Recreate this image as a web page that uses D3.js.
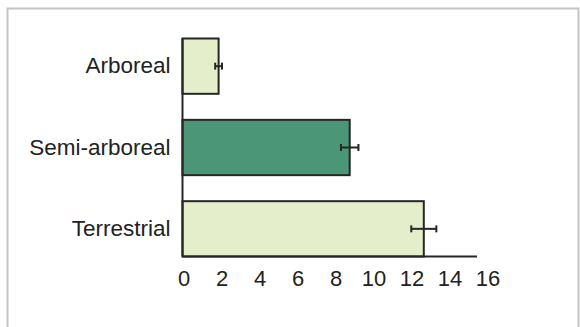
<!DOCTYPE html>
<html>
<head>
<meta charset="utf-8">
<script src="https://cdn.jsdelivr.net/npm/d3@7"></script>
<style>
  html, body { margin: 0; padding: 0; background: #fff; }
  svg { display: block; }
  text { font-family: "Liberation Sans", Arial, Helvetica, sans-serif; fill: #222; }
</style>
</head>
<body>
<svg id="chart" width="580" height="327"></svg>
<script>
// Habitat categories, mean values and error (± half-width)
const categories = ["Arboreal", "Semi-arboreal", "Terrestrial"];
const values = [1.9, 8.8, 12.7];
const errors = [0.18, 0.46, 0.66];
const fills = ["#e4eecb", "#4a9676", "#e4eecb"];
const tickValues = [0, 2, 4, 6, 8, 10, 12, 14, 16];

const svg = d3.select("#chart");

// outer panel frame
svg.append("rect")
  .attr("x", 7.5).attr("y", 8.5)
  .attr("width", 571).attr("height", 340)
  .attr("fill", "#fff")
  .attr("stroke", "#c4c4c4")
  .attr("stroke-width", 2);

const x = d3.scaleLinear().domain([0, 16]).range([182.5, 486.5]);
const y = d3.scaleBand().domain(categories).range([38.5, 256.5]).paddingInner(0.32).paddingOuter(0);

const data = categories.map((c, i) => ({ c, v: values[i], e: errors[i], f: fills[i] }));

// bars
svg.append("g").selectAll("rect")
  .data(data).join("rect")
  .attr("x", x(0))
  .attr("y", d => y(d.c))
  .attr("width", d => x(d.v) - x(0))
  .attr("height", y.bandwidth())
  .attr("fill", d => d.f)
  .attr("stroke", "#262626")
  .attr("stroke-width", 2);

// error bars
const eg = svg.append("g").attr("stroke", "#262626").attr("stroke-width", 2);
data.forEach(d => {
  const cy = y(d.c) + y.bandwidth() / 2;
  eg.append("line").attr("x1", x(d.v - d.e)).attr("x2", x(d.v + d.e)).attr("y1", cy).attr("y2", cy);
  [d.v - d.e, d.v + d.e].forEach(v => {
    eg.append("line").attr("x1", x(v)).attr("x2", x(v)).attr("y1", cy - 3.5).attr("y2", cy + 3.5);
  });
});

// vertical axis line
svg.append("line")
  .attr("x1", x(0)).attr("x2", x(0))
  .attr("y1", y(categories[0])).attr("y2", y.range()[1])
  .attr("stroke", "#262626").attr("stroke-width", 2);

// horizontal axis line
svg.append("line")
  .attr("x1", x(0)).attr("x2", x(15.5))
  .attr("y1", y.range()[1]).attr("y2", y.range()[1])
  .attr("stroke", "#262626").attr("stroke-width", 2);

// x tick labels
const xAxis = svg.append("g")
  .attr("transform", `translate(1,${y.range()[1]})`)
  .call(d3.axisBottom(x).tickValues(tickValues).tickSize(0).tickPadding(14).tickFormat(d3.format("d")));
xAxis.select(".domain").remove();
xAxis.selectAll("text").attr("font-size", 22).attr("fill", "#2a2a2a")
  .style("font-family", "'Liberation Sans', Arial, sans-serif");

// category labels
const yAxis = svg.append("g")
  .attr("transform", `translate(${x(0)},0)`)
  .call(d3.axisLeft(y).tickSize(0).tickPadding(12));
yAxis.select(".domain").remove();
yAxis.selectAll("text").attr("font-size", 22.5).attr("fill", "#2a2a2a")
  .style("font-family", "'Liberation Sans', Arial, sans-serif");
</script>
</body>
</html>
